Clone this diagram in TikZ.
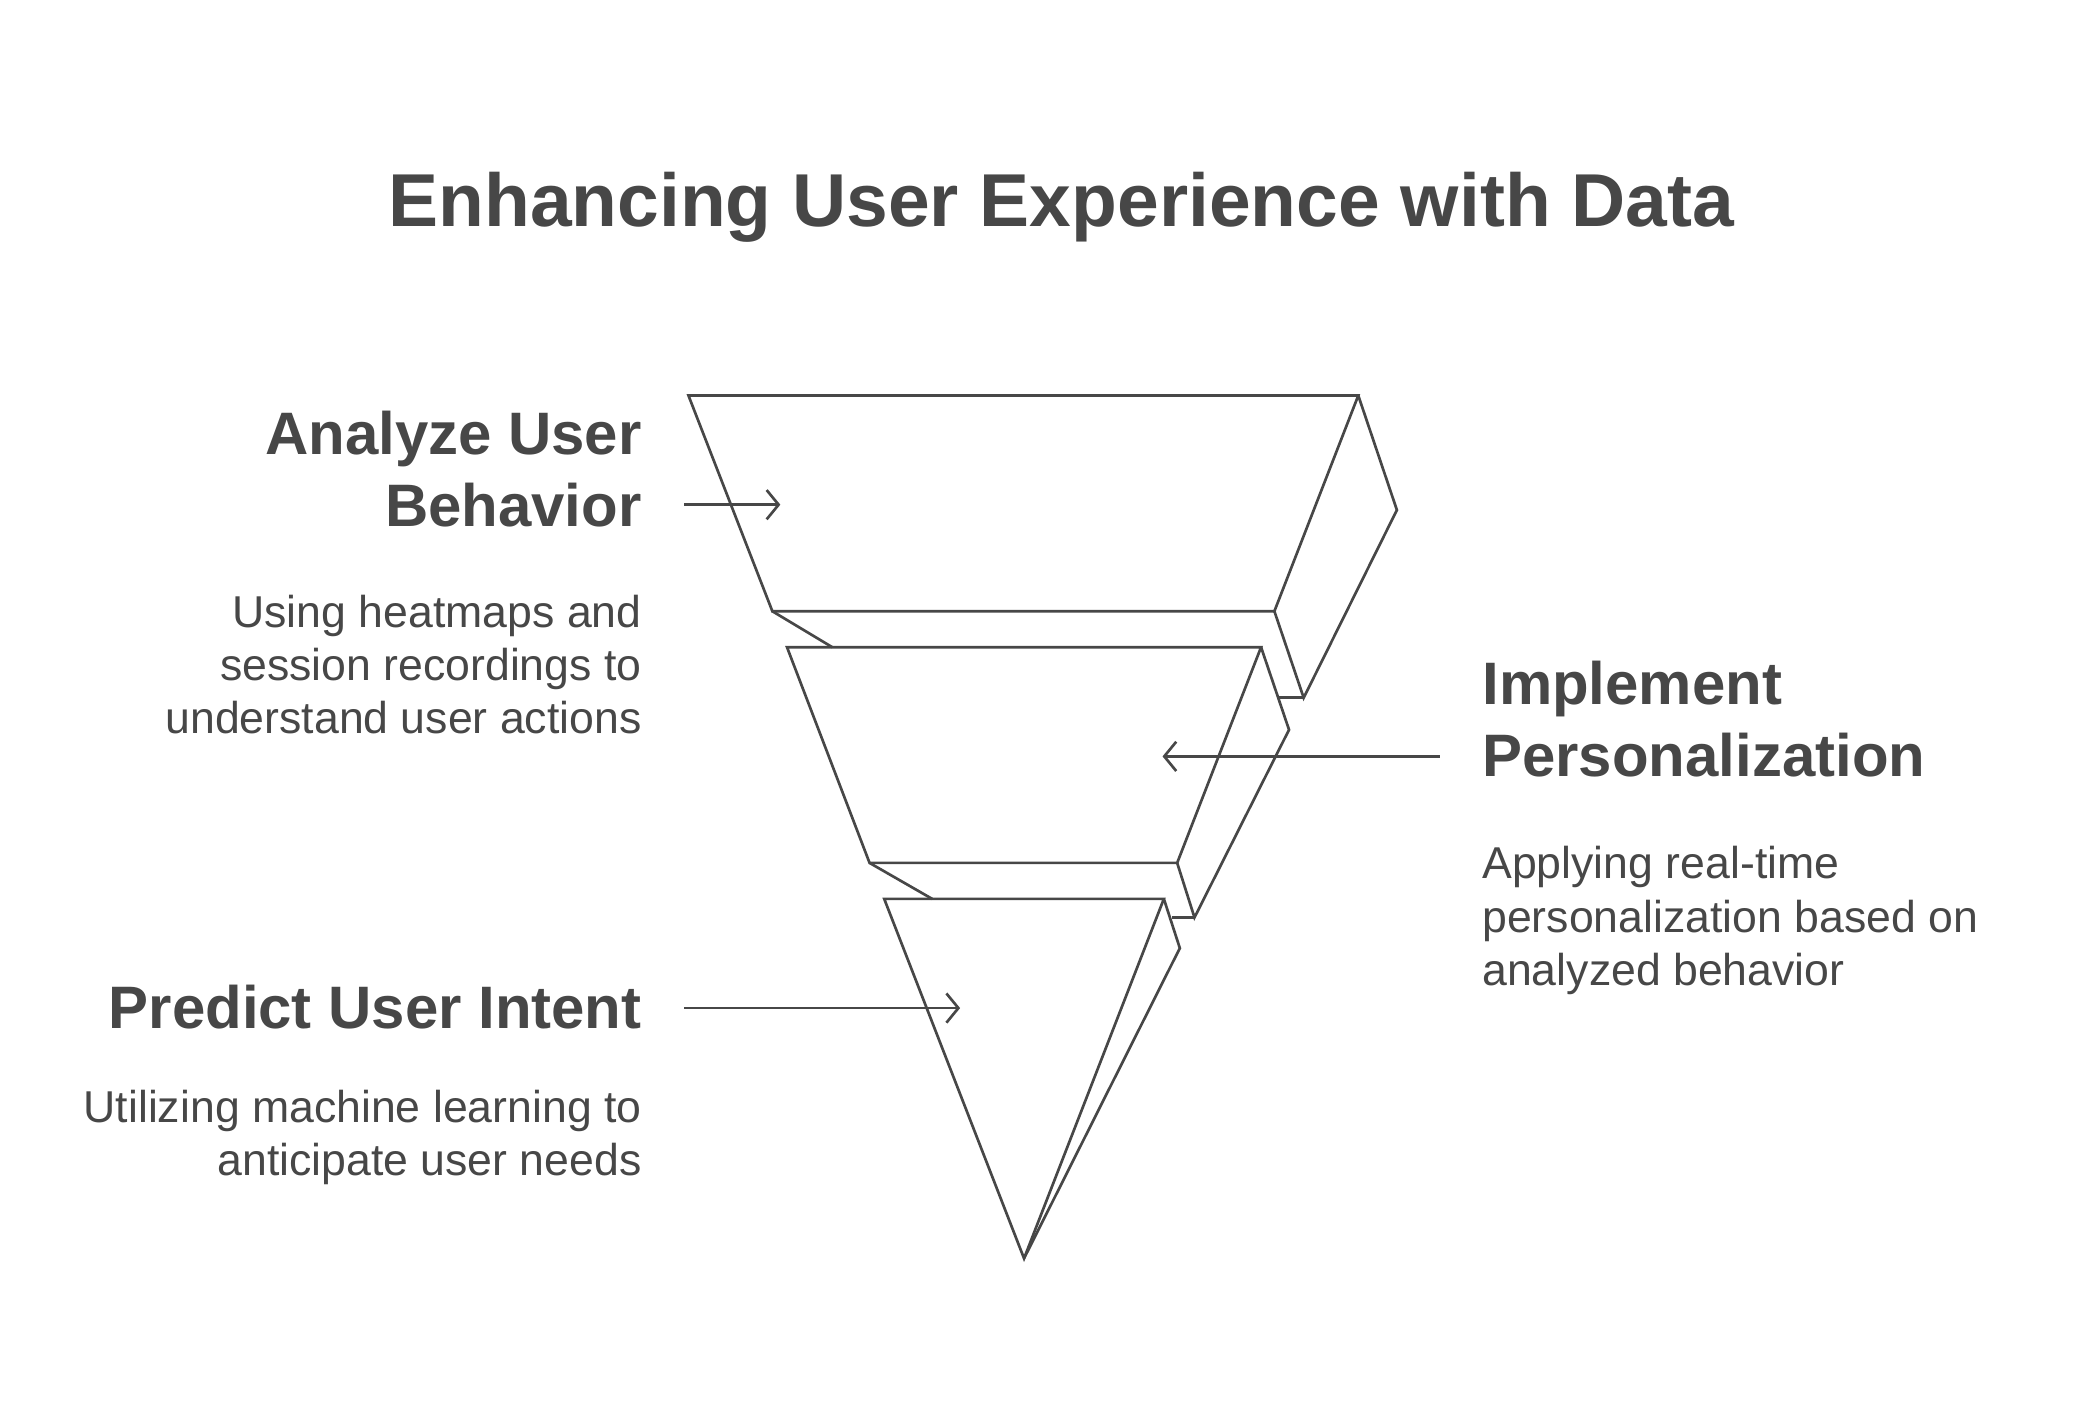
\documentclass[tikz,border=0pt]{standalone}
\usepackage{fontspec}
\setmainfont{Liberation Sans}
\usepackage{xcolor}
\usetikzlibrary{arrows.meta}
\definecolor{ink}{HTML}{474747}

\begin{document}
\begin{tikzpicture}[x=1pt,y=-1pt,
line/.style={draw=ink,line width=2pt,line join=miter},
pointer/.style={draw=ink,line width=2pt,-{Straight Barb[length=9pt,width=22pt,line width=2pt]}},
heading/.style={text=ink,font=\fontsize{45}{54}\selectfont\bfseries,inner sep=0pt},
body/.style={text=ink,font=\fontsize{33.5}{40}\selectfont,inner sep=0pt}]
\useasboundingbox (0,0) rectangle (1568,1053);
\node (title) [text=ink,font=\fontsize{56.3}{68}\selectfont\bfseries,anchor=base] at (797,170) {Enhancing User Experience with Data};
% top tier
\draw[line] (517,297) -- (1020,297) -- (957,459) -- (580,459) -- cycle;
\draw[line] (1020,297) -- (1049,383) -- (979,524) -- (957,459);
\draw[line] (960,524) -- (979,524);
\draw[line] (580,459) -- (625,486);
% middle tier
\draw[line] (591,486) -- (947,486) -- (884,648) -- (653,648) -- cycle;
\draw[line] (947,486) -- (968,548) -- (897,689) -- (884,648);
\draw[line] (880,689) -- (897,689);
\draw[line] (653,648) -- (700,675);
% bottom tier
\draw[line] (664,675) -- (874,675) -- (769,945) -- cycle;
\draw[line] (874,675) -- (886,712) -- (769,945);
% labels
\node (analyze) [heading,anchor=base east,align=right] at (482,395) {Analyze User\\Behavior};
\node (analyzetxt) [body,anchor=base east,align=right] at (482,551) {Using heatmaps and\\session recordings to\\understand user actions};
\node (impl) [heading,anchor=base west,align=left] at (1113,583) {Implement\\Personalization};
\node (impltxt) [body,anchor=base west,align=left] at (1113,740) {Applying real-time\\personalization based on\\analyzed behavior};
\node (predict) [heading,anchor=base east] at (482,772) {Predict User Intent};
\node (predicttxt) [body,anchor=base east,align=right] at (482,883) {Utilizing machine learning to\\anticipate user needs};
\coordinate (a1) at (514,379); \coordinate (a2) at (586,379);
\coordinate (b1) at (1081,568); \coordinate (b2) at (873,568);
\coordinate (c1) at (514,757); \coordinate (c2) at (721,757);
\draw[pointer] (a1) -- (a2);
\draw[pointer] (b1) -- (b2);
\draw[pointer] (c1) -- (c2);
\end{tikzpicture}
\end{document}
